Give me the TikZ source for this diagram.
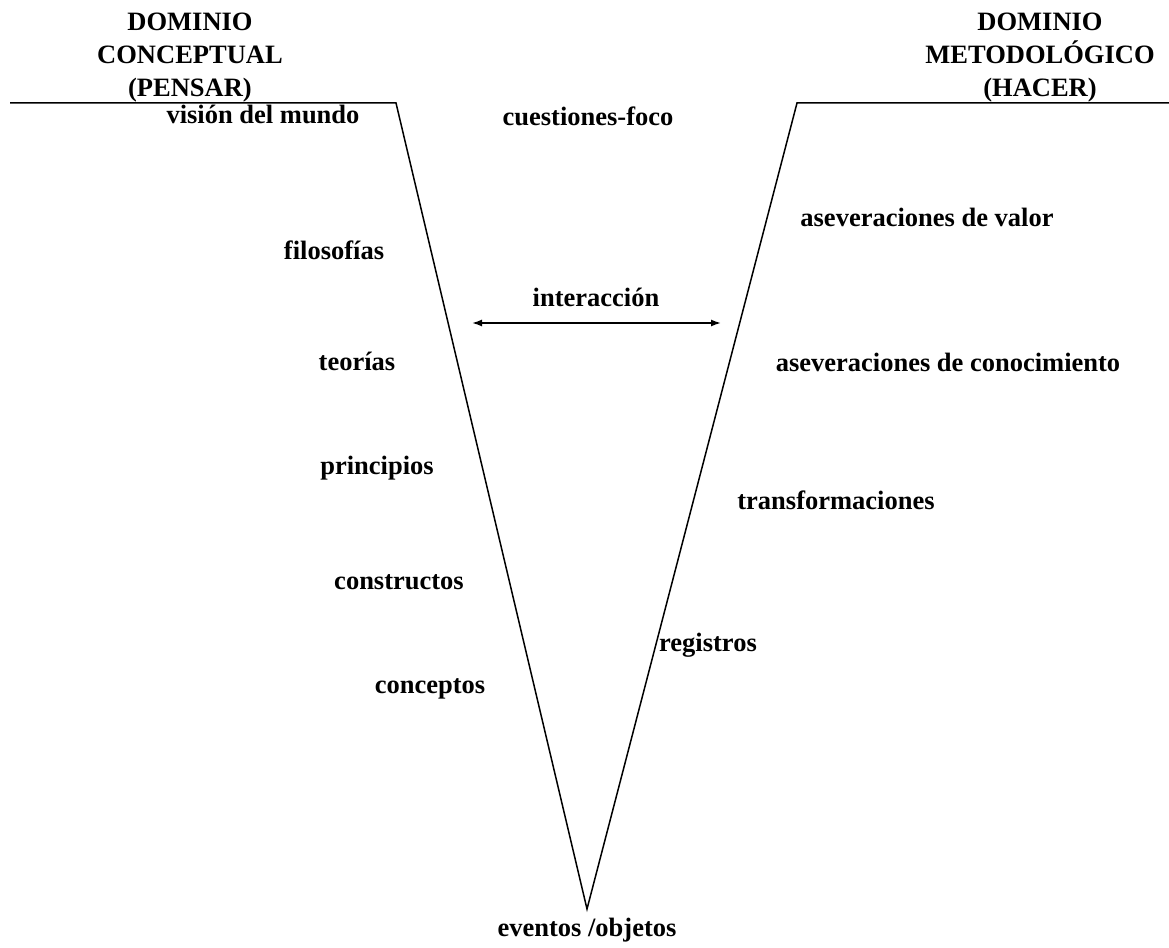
\documentclass[tikz,border=0pt]{standalone}
\usepackage{fontspec}
\setmainfont{Liberation Serif}
\usetikzlibrary{arrows.meta}
\begin{document}
\begin{tikzpicture}[x=1pt,y=-1pt]
\tikzstyle{every node}+=[inner sep=0pt]
\tikzstyle{lbl}=[font=\fontsize{26.5}{33}\selectfont\bfseries, align=center]
\useasboundingbox (0,0) rectangle (1169,947);
\coordinate (l0) at (10,103);
\coordinate (l1) at (396,103);
\coordinate (v) at (587,909);
\coordinate (r1) at (797,103);
\coordinate (r0) at (1169,103);
\draw [black, line width=1.5pt] (l0) -- (l1) -- (v) -- (r1) -- (r0);
\node [lbl] (pensar) at (190,58) {DOMINIO\\CONCEPTUAL\\(PENSAR)};
\node [lbl] (hacer) at (1040,58) {DOMINIO\\METODOLÓGICO\\(HACER)};
\node [lbl] (vision) at (263,114) {visión del mundo};
\node [lbl] (filos) at (334,250) {filosofías};
\node [lbl] (teorias) at (357,361) {teorías};
\node [lbl] (princ) at (377,468) {principios};
\node [lbl] (constr) at (399,582) {constructos};
\node [lbl] (concep) at (430,689) {conceptos};
\node [lbl] (foco) at (588,116) {cuestiones-foco};
\node [lbl] (inter) at (596,297) {interacción};
\node [lbl] (valor) at (927,217) {aseveraciones de valor};
\node [lbl] (conoc) at (948,362) {aseveraciones de conocimiento};
\node [lbl] (transf) at (836,500) {transformaciones};
\node [lbl] (regis) at (708,645) {registros};
\node [lbl] (event) at (587,930) {eventos /objetos};
\coordinate (a0) at (472,323);
\coordinate (a1) at (721,323);
\draw [black, line width=1.5pt, {Latex[length=10pt,width=7pt]}-{Latex[length=10pt,width=7pt]}] (a0) -- (a1);
\end{tikzpicture}
\end{document}
